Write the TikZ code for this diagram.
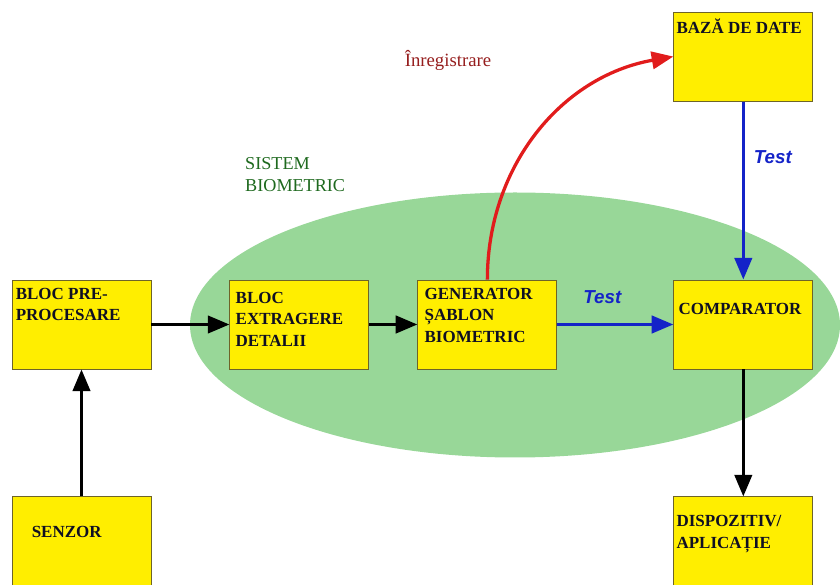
\documentclass[tikz,border=0pt]{standalone}
\usepackage{fontspec}
\setmainfont{Liberation Serif}
\setsansfont{Liberation Sans}
\usepackage{tikz}
\usetikzlibrary{shapes,arrows,positioning}
\usetikzlibrary{arrows.meta}
\definecolor{myyellow}{RGB}{255,238,0}
\definecolor{myedge}{RGB}{110,100,40}
\definecolor{mylgreen}{RGB}{152,215,152}
\definecolor{mydgreen}{RGB}{30,105,30}
\definecolor{myred}{RGB}{225,28,28}
\definecolor{mydred}{RGB}{150,30,30}
\definecolor{myblue}{RGB}{20,35,200}
\definecolor{myink}{RGB}{15,15,35}

\begin{document}
\begin{tikzpicture}[
    blk/.style={draw=myedge,line width=0.8pt,fill=myyellow,minimum width=4.17cm,minimum height=2.67cm,inner sep=0pt},
    blktxt/.style={anchor=north west,inner sep=0pt,align=left,myink,font=\fontsize{14.5}{18.5}\selectfont\bfseries},
    testlbl/.style={myblue,inner sep=0pt,font=\fontsize{16}{19}\selectfont\sffamily\bfseries\itshape},
    arr/.style={line width=2.8pt,-{Triangle[length=6.5mm,width=5.2mm]}}
  ]
  \useasboundingbox (0,0) rectangle (25.2,17.52);

  % the biometric system
  \node[ellipse,fill=mylgreen,minimum width=19.5cm,minimum height=7.95cm] (sys) at (15.45,7.77) {};
  \node[anchor=north west,inner sep=0pt,align=left,mydgreen,font=\fontsize{15.5}{19}\selectfont] (systxt) at (7.35,12.81) {SISTEM\\BIOMETRIC};

  % the blocks
  \node[blk,label={[blktxt,xshift=1.2mm,yshift=-2.4mm]north west:{BLOC PRE-\\PROCESARE}}] (pre) at (2.445,7.785) {};
  \node[blk,right=2.34cm of pre,label={[blktxt,xshift=1.8mm,yshift=-3.6mm]north west:{BLOC\\EXTRAGERE\\DETALII}}] (extr) {};
  \node[blk,right=1.44cm of extr,label={[blktxt,xshift=2.1mm,yshift=-2.4mm]north west:{GENERATOR\\ȘABLON\\BIOMETRIC}}] (gen) {};
  \node[blk,right=3.48cm of gen,label={[blktxt,xshift=1.5mm,yshift=-6.9mm]north west:{COMPARATOR}}] (comp) {};
  \node[blk,above=5.34cm of comp,label={[blktxt,xshift=0.9mm,yshift=-2.1mm]north west:{BAZĂ DE DATE}}] (baza) {};
  \node[blk,below=3.81cm of comp,label={[blktxt,xshift=0.9mm,yshift=-5.7mm]north west:{DISPOZITIV/\\APLICAȚIE}}] (disp) {};
  \node[blk,below=3.81cm of pre,label={[blktxt,xshift=6mm,yshift=-9mm]north west:{SENZOR}}] (senzor) {};

  % the flows
  \draw[arr] (senzor) -- (pre);
  \draw[arr] (pre) -- (extr);
  \draw[arr] (extr) -- (gen);
  \draw[arr,myblue] (gen) -- node[testlbl,above=5.7mm,xshift=-3.9mm] (test1) {Test} (comp);
  \draw[arr,myblue] (baza) -- node[testlbl,pos=0.31,right=2.7mm] (test2) {Test} (comp);
  \draw[arr] (comp) -- (disp);
  \draw[arr,myred] (gen.north) to[out=90,in=190] (baza.west);
  \node[mydred,font=\fontsize{16}{19}\selectfont] (inreg) at (13.44,15.72) {Înregistrare};
\end{tikzpicture}
\end{document}
